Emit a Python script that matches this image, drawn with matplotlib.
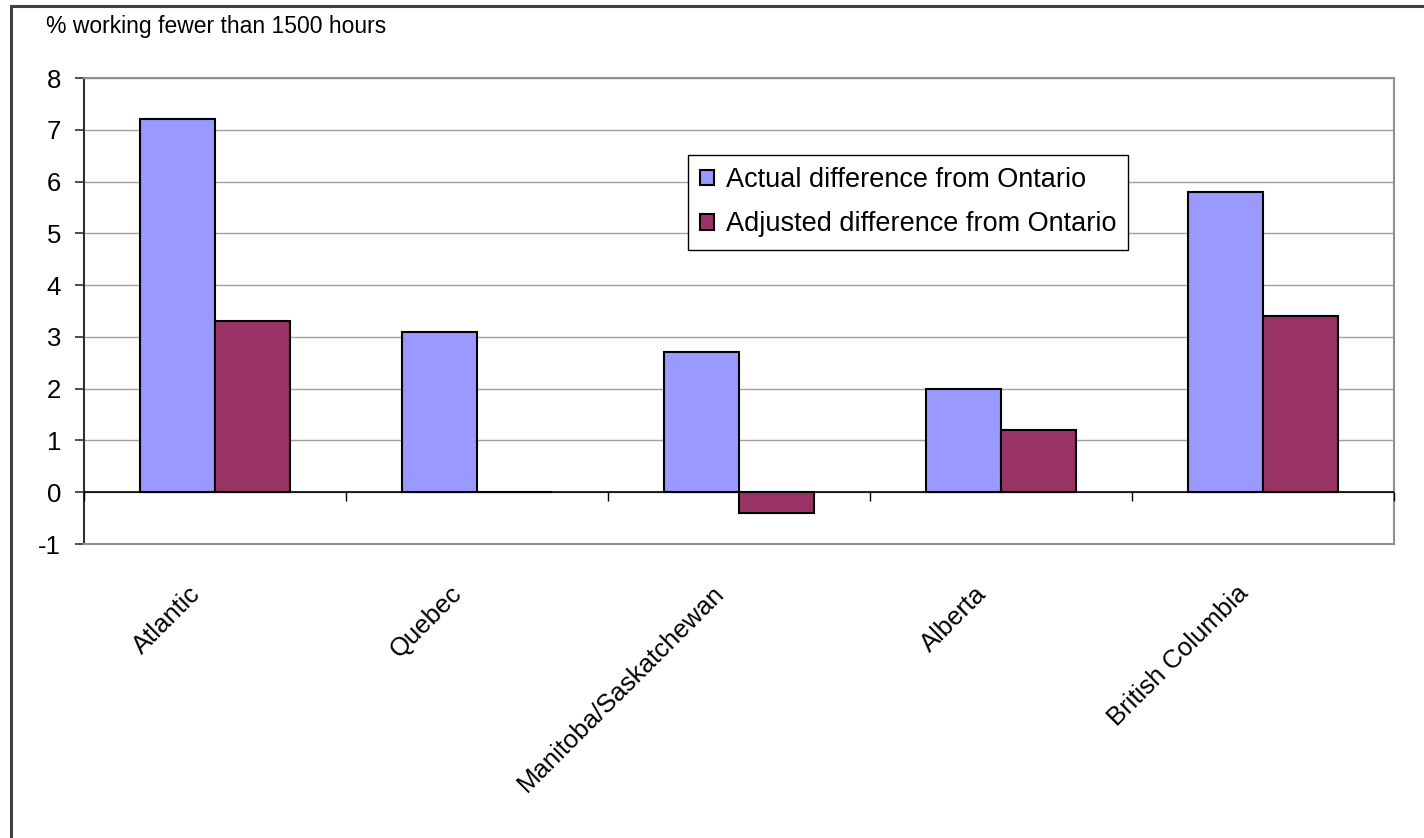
import numpy as np
import matplotlib
matplotlib.use("Agg")
import matplotlib.pyplot as plt
from matplotlib.patches import Rectangle
from matplotlib.transforms import ScaledTranslation

plt.rcParams['font.family'] = ['Liberation Sans', 'DejaVu Sans']
plt.rcParams['axes.unicode_minus'] = False

# data
regions = ['Atlantic', 'Quebec', 'Manitoba/Saskatchewan', 'Alberta', 'British Columbia']
actual = [7.2, 3.1, 2.7, 2.0, 5.8]
adjusted = [3.3, 0.0, -0.4, 1.2, 3.4]
series_names = ['Actual difference from Ontario', 'Adjusted difference from Ontario']
yticks = [-1, 0, 1, 2, 3, 4, 5, 6, 7, 8]

fig = plt.figure(figsize=(14.24, 8.38), dpi=100)
# outer chart frame (only left/top visible in the crop)
fig.patches.append(Rectangle((11 / 1424, -0.05), 1.1, 1 - 6 / 838 + 0.05,
                             transform=fig.transFigure, fill=False,
                             edgecolor='#404040', linewidth=2.2))

ax = fig.add_axes([84 / 1424, 294 / 838, 1310 / 1424, 466 / 838])

x = np.arange(len(regions))
w = 0.288
ax.bar(x - w / 2, actual, w, color='#9999FF', edgecolor='black', linewidth=1.5,
       label=series_names[0], zorder=3)
ax.bar(x + w / 2, adjusted, w, color='#993366', edgecolor='black', linewidth=1.5,
       label=series_names[1], zorder=3)

ax.set_xlim(-0.5, len(regions) - 0.5)
ax.set_ylim(-1, 8)
ax.set_yticks(yticks)
ax.yaxis.grid(True, color='#a0a0a0', linewidth=1.0)
ax.set_axisbelow(True)
ax.tick_params(axis='y', direction='out', length=6.5, width=1.2, labelsize=18.5,
               pad=10, color='#303030')

ax.set_xticks(x)
ax.set_xticklabels(regions, rotation=45, ha='right', fontsize=18.5)
ax.tick_params(axis='x', length=0, pad=27)
shift = ScaledTranslation(-10 / 100, 0, fig.dpi_scale_trans)
for lbl in ax.get_xticklabels():
    lbl.set_transform(lbl.get_transform() + shift)

for side in ['top', 'right', 'bottom']:
    ax.spines[side].set_color('#909090')
    ax.spines[side].set_linewidth(1.5)
ax.spines['left'].set_color('#303030')
ax.spines['left'].set_linewidth(1.5)

# zero line with category separator ticks
ax.axhline(0, color='black', linewidth=1.2, zorder=4)
bounds = np.arange(len(regions) + 1) - 0.5
ax.vlines(bounds, -0.17, 0, color='black', linewidth=1.0, zorder=4, clip_on=False)

fig.text(46 / 1424, 1 - 27 / 838, '% working fewer than 1500 hours',
         fontsize=16.5, va='center', ha='left')

leg = ax.legend(loc='upper left', bbox_to_anchor=(0.461, 0.835), fontsize=19.5,
                fancybox=False, framealpha=1, edgecolor='black',
                handlelength=0.52, handleheight=0.52, handletextpad=0.42,
                labelspacing=0.68, borderpad=0.45, borderaxespad=0)
leg.get_frame().set_linewidth(1.0)

fig.savefig('out.png', dpi=100)
